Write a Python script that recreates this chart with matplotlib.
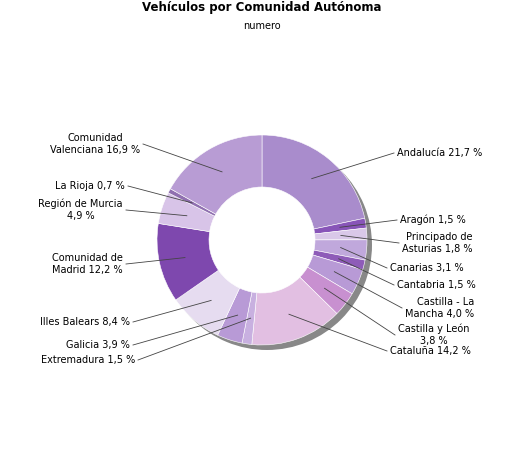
import matplotlib
matplotlib.use("Agg")
import matplotlib.pyplot as plt
import numpy as np

labels = ["Andalucía", "Aragón", "Principado de\nAsturias", "Canarias", "Cantabria",
          "Castilla - La\nMancha", "Castilla y León\n", "Cataluña", "Extremadura",
          "Galicia", "Illes Balears", "Comunidad de\nMadrid", "Región de Murcia\n",
          "La Rioja", "Comunidad\nValenciana"]
values = [21.7, 1.5, 1.8, 3.1, 1.5, 4.0, 3.8, 14.2, 1.5, 3.9, 8.4, 12.2, 4.9, 0.7, 16.9]
colors = ["#a98ccc", "#8855b8", "#d9c8e8", "#c0a8dc", "#8e5cb8", "#b89ad6", "#c890d0",
          "#e2bfe2", "#c8b0e0", "#b89ad6", "#e6dcf0", "#7e48ae", "#d8c4e8", "#9070b0", "#b89cd4"]
# text anchor positions (pixels from top-left), alignment, multi-line alignment
label_pos = [(397, 153, "left", "left"), (400, 220, "left", "left"), (402, 243, "left", "right"),
             (390, 268, "left", "left"), (397, 285, "left", "left"), (405, 308, "left", "right"),
             (398, 335, "left", "center"), (390, 351, "left", "left"),
             (135, 360, "right", "right"), (130, 345, "right", "right"), (130, 322, "right", "right"),
             (123, 264, "right", "center"), (123, 210, "right", "center"), (125, 186, "right", "right"),
             (140, 144, "right", "center")]

W, H = 525, 450
fig = plt.figure(figsize=(5.25, 4.5), dpi=100)
ax = fig.add_axes([0, 0, 1, 1])

cx, cy, R, r = 262, H - 240, 105, 53
# shadow: thin outer band, offset to lower right
ax.pie([1], radius=R, center=(cx + 5, cy - 5), colors=["#888888"],
       wedgeprops=dict(width=12, linewidth=0), frame=True)
wedges, _ = ax.pie(values, radius=R, center=(cx, cy), colors=colors, startangle=90,
                   counterclock=False, wedgeprops=dict(width=R - r, linewidth=0.4, edgecolor="white"),
                   frame=True)
ax.set_xlim(0, W)
ax.set_ylim(0, H)
ax.set_aspect("equal")
ax.axis("off")

for w, lab, v, (tx, ty, ha, ma) in zip(wedges, labels, values, label_pos):
    ang = np.deg2rad((w.theta1 + w.theta2) / 2)
    rm = (R + r) / 2
    px, py = cx + rm * np.cos(ang), cy + rm * np.sin(ang)
    pct = ("%.1f %%" % v).replace(".", ",")
    text = lab + pct if lab.endswith("\n") else lab + " " + pct
    ty2 = H - ty
    ax.text(tx, ty2, text, ha=ha, va="center", fontsize=7, linespacing=1.3, multialignment=ma)
    ex = tx - 3 if ha == "left" else tx + 3
    ax.plot([ex, px], [ty2, py], color="#444444", lw=0.6)

fig.text(262 / W, 1 - 8 / H, "Vehículos por Comunidad Autónoma", ha="center", va="center",
         fontsize=8.5, fontweight="bold")
fig.text(262 / W, 1 - 26 / H, "numero", ha="center", va="center", fontsize=7)
fig.savefig("out.png", dpi=100)
